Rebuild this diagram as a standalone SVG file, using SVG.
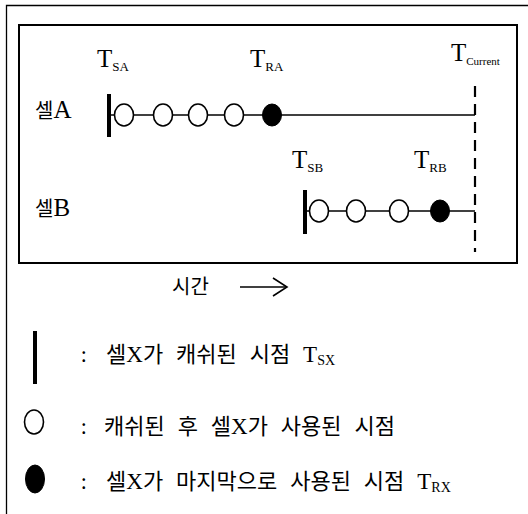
<svg xmlns="http://www.w3.org/2000/svg" width="528" height="514" viewBox="0 0 528 514">
<style>
.frame{fill:none;stroke:#000;stroke-width:1.3}
.box{fill:none;stroke:#000;stroke-width:2}
.line{stroke:#000;stroke-width:1.6;fill:none}
.bar{stroke:#000;stroke-width:4}
.open{fill:#fff;stroke:#000;stroke-width:1.6}
.fill{fill:#000;stroke:#000;stroke-width:1}
.dash{stroke:#000;stroke-width:2.2;stroke-dasharray:11 7}
.t{font-family:"Liberation Serif","Noto Sans CJK KR",serif;fill:#000}
.k{font-family:"Noto Sans CJK KR","Liberation Serif",sans-serif;fill:#000}
.lg{word-spacing:8px}
</style>
<polyline class="frame" points="6.5,514 6.5,5.5 528,5.5"/>
<rect class="box" x="19" y="25" width="498" height="238"/>
<g id="connectors">
  <line class="dash" x1="475" y1="86" x2="475" y2="252"/>
  <line class="line" x1="109" y1="115" x2="475" y2="115"/>
  <line class="line" x1="305" y1="211" x2="475" y2="211"/>
  <line class="line" x1="240" y1="287" x2="286" y2="287"/>
  <polyline class="line" points="273,278 287,287 273,296"/>
</g>
<g id="labels">
  <text class="t" x="97" y="67" font-size="25">T<tspan font-size="13" dy="4">SA</tspan></text>
  <text class="t" x="250" y="67" font-size="25">T<tspan font-size="13" dy="4">RA</tspan></text>
  <text class="t" x="451" y="61" font-size="25">T<tspan font-size="11" dy="4">Current</tspan></text>
  <text class="t" x="292" y="168" font-size="25">T<tspan font-size="13" dy="4">SB</tspan></text>
  <text class="t" x="414" y="168" font-size="25">T<tspan font-size="13" dy="4">RB</tspan></text>
</g>
<g id="cellA">
  <text x="35" y="118"><tspan class="k" font-size="20">셀</tspan><tspan class="t" font-size="25">A</tspan></text>
  <line class="bar" x1="109" y1="94" x2="109" y2="137"/>
  <ellipse class="open" cx="124" cy="115" rx="9.5" ry="11"/>
  <ellipse class="open" cx="163" cy="115" rx="9.5" ry="11"/>
  <ellipse class="open" cx="198" cy="115" rx="9.5" ry="11"/>
  <ellipse class="open" cx="234" cy="115" rx="9.5" ry="11"/>
  <ellipse class="fill" cx="272" cy="115" rx="9.5" ry="11"/>
</g>
<g id="cellB">
  <text x="35" y="216"><tspan class="k" font-size="20">셀</tspan><tspan class="t" font-size="25">B</tspan></text>
  <line class="bar" x1="305" y1="190" x2="305" y2="234"/>
  <ellipse class="open" cx="319" cy="211" rx="9.5" ry="11"/>
  <ellipse class="open" cx="356" cy="211" rx="9.5" ry="11"/>
  <ellipse class="open" cx="399" cy="211" rx="9.5" ry="11"/>
  <ellipse class="fill" cx="440" cy="211" rx="9.5" ry="11"/>
</g>
<g id="time">
  <text class="k" x="172" y="294" font-size="20">시간</text>
</g>
<g id="legend1">
  <line class="bar" x1="35" y1="331" x2="35" y2="384"/>
  <text class="k" x="81" y="362" font-size="20">:</text>
  <text class="lg" x="106" y="362"><tspan class="k" font-size="22">셀</tspan><tspan class="t" font-size="23">X</tspan><tspan class="k" font-size="22">가 캐쉬된 시점 </tspan><tspan class="t" font-size="23">T</tspan><tspan class="t" font-size="14" dy="3">SX</tspan></text>
</g>
<g id="legend2">
  <ellipse class="open" cx="34" cy="422" rx="9.5" ry="12"/>
  <text class="k" x="81" y="434" font-size="20">:</text>
  <text class="lg" x="104" y="434"><tspan class="k" font-size="22">캐쉬된 후 셀</tspan><tspan class="t" font-size="23">X</tspan><tspan class="k" font-size="22">가 사용된 시점</tspan></text>
</g>
<g id="legend3">
  <ellipse class="fill" cx="35" cy="479" rx="9.5" ry="14"/>
  <text class="k" x="81" y="489" font-size="20">:</text>
  <text class="lg" x="106" y="489"><tspan class="k" font-size="22">셀</tspan><tspan class="t" font-size="23">X</tspan><tspan class="k" font-size="22">가 마지막으로 사용된 시점 </tspan><tspan class="t" font-size="23">T</tspan><tspan class="t" font-size="14" dy="3">RX</tspan></text>
</g>
</svg>
